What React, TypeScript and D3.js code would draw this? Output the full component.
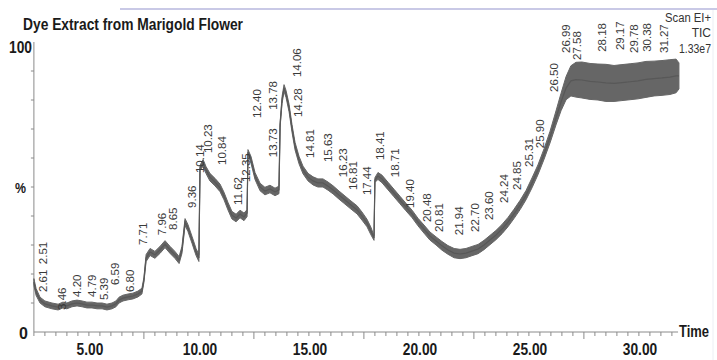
import React from "react";
import * as d3 from "d3";

// retention time (min)
const TIMES = [
  2.45, 2.55, 2.73, 2.95, 3.27, 3.55, 3.77, 3.95, 4.18, 4.41, 4.64, 4.86, 5.09, 5.32, 5.55, 5.77, 6.0, 6.18, 6.32, 6.5,
  6.73, 6.95, 7.18, 7.36, 7.45, 7.55, 7.73, 7.95, 8.18, 8.41, 8.64, 8.86, 9.05, 9.18, 9.32, 9.45, 9.64, 9.82, 9.95, 10.0,
  10.14, 10.27, 10.45, 10.68, 10.91, 11.09, 11.27, 11.45, 11.64, 11.82, 12.0, 12.14, 12.18, 12.32, 12.5, 12.73, 12.95, 13.18, 13.41, 13.59,
  13.64, 13.73, 13.82, 13.91, 14.05, 14.18, 14.32, 14.5, 14.68, 14.91, 15.14, 15.36, 15.59, 15.82, 16.05, 16.32, 16.59, 16.86, 17.14, 17.36,
  17.59, 17.77, 17.91, 17.95, 18.09, 18.27, 18.55, 18.82, 19.09, 19.36, 19.64, 19.91, 20.18, 20.45, 20.73, 21.0, 21.27, 21.55, 21.82, 22.09,
  22.36, 22.64, 22.91, 23.18, 23.45, 23.73, 24.0, 24.27, 24.55, 24.82, 25.09, 25.36, 25.64, 25.91, 26.18, 26.41, 26.64, 26.86, 27.09, 27.36,
  27.73, 28.09, 28.45, 28.82, 29.18, 29.55, 29.91, 30.27, 30.64, 31.0, 31.36, 31.64, 31.77,
];
// relative abundance (%), trace centre
const CENTER = [
  17.2, 13.8, 11.0, 9.7, 9.0, 8.6, 9.3, 9.0, 9.7, 10.0, 9.7, 9.3, 9.3, 9.0, 9.0, 8.6, 9.0, 9.7, 11.0, 11.7,
  12.1, 12.4, 13.1, 14.1, 17.9, 25.5, 27.6, 26.6, 28.3, 30.3, 28.3, 26.6, 24.8, 28.3, 37.9, 35.9, 31.7, 27.6, 25.5, 56.6,
  58.3, 55.9, 53.4, 51.7, 49.7, 46.9, 43.4, 40.3, 39.3, 40.7, 39.7, 41.0, 62.1, 59.3, 53.8, 50.0, 48.6, 49.3, 48.3, 49.0,
  71.4, 80.0, 84.1, 82.1, 77.2, 70.3, 64.1, 59.3, 55.9, 53.4, 52.1, 51.4, 51.4, 50.3, 49.0, 47.2, 45.5, 43.8, 42.1, 40.0,
  37.6, 34.8, 32.4, 52.4, 53.8, 52.8, 50.3, 47.9, 45.5, 43.1, 40.7, 37.9, 35.5, 33.1, 31.4, 29.7, 28.3, 27.2, 26.9, 27.2,
  27.9, 28.6, 30.0, 31.7, 33.4, 35.5, 37.9, 40.7, 43.8, 47.2, 51.4, 55.9, 61.4, 67.2, 73.8, 79.3, 84.1, 86.6, 87.0, 86.9,
  86.4, 86.2, 85.9, 85.7, 86.0, 86.3, 86.6, 87.1, 87.4, 87.6, 87.9, 88.3, 88.3,
];
// half-width of the noise band (%)
const SPREAD = [
  1.2, 1.2, 1.0, 1.0, 1.0, 1.0, 1.0, 1.0, 1.0, 1.0, 1.0, 1.0, 1.0, 1.0, 1.0, 1.0, 1.0, 1.0, 1.0, 1.0,
  1.0, 1.0, 1.0, 1.0, 0.8, 1.2, 1.2, 1.2, 1.2, 1.2, 1.2, 1.2, 1.2, 1.2, 1.2, 1.2, 1.2, 1.2, 1.2, 0.8,
  1.2, 1.2, 1.3, 1.3, 1.3, 1.3, 1.3, 1.3, 1.3, 1.3, 1.3, 1.2, 0.8, 1.2, 1.2, 1.3, 1.3, 1.3, 1.3, 1.3,
  0.8, 1.2, 1.2, 1.2, 1.3, 1.3, 1.3, 1.3, 1.3, 1.3, 1.4, 1.4, 1.4, 1.4, 1.4, 1.4, 1.4, 1.4, 1.4, 1.4,
  1.3, 1.3, 0.8, 0.8, 1.2, 1.3, 1.3, 1.3, 1.3, 1.3, 1.3, 1.3, 1.4, 1.4, 1.4, 1.5, 1.5, 1.6, 1.6, 1.6,
  1.6, 1.6, 1.6, 1.6, 1.6, 1.6, 1.6, 1.6, 1.6, 1.6, 1.7, 1.7, 1.8, 2.0, 2.4, 3.0, 4.0, 5.2, 6.0, 6.2,
  6.2, 6.2, 6.4, 6.2, 6.2, 6.2, 6.2, 6.2, 6.0, 6.0, 6.0, 5.8, 4.5,
];

// peak annotations: label, anchor time, anchor level (%)
const PEAK_LABELS = [
  "2.61", "2.51", "3.46", "4.20", "4.79", "5.39", "6.59", "6.80", "7.71", "7.96", "8.65", "9.36", "10.14", "10.23",
  "10.84", "11.62", "12.35", "12.40", "13.73", "13.78", "14.06", "14.28", "14.81", "15.63", "16.23", "16.81", "17.44",
  "18.41", "18.71", "19.40", "20.48", "20.81", "21.94", "22.70", "23.60", "24.24", "24.85", "25.31", "25.90", "26.50",
  "26.99", "27.58", "28.18", "29.17", "29.78", "30.38", "31.27",
];
const PEAK_T = [
  2.86, 2.86, 3.73, 4.41, 5.09, 5.64, 6.14, 6.82, 7.41, 8.27, 8.77, 9.64, 10.0, 10.36,
  11.0, 11.73, 12.09, 12.59, 13.32, 13.32, 14.41, 14.45, 15.0, 15.82, 16.5, 16.95, 17.59,
  18.18, 18.86, 19.55, 20.32, 20.86, 21.77, 22.5, 23.14, 23.82, 24.41, 24.95, 25.45, 26.09,
  26.64, 27.14, 28.27, 29.09, 29.73, 30.32, 31.09,
];
const PEAK_V = [
  13.8, 23.4, 7.6, 12.1, 12.1, 11.0, 16.2, 13.8, 30.0, 33.4, 35.2, 42.8, 54.8, 61.7,
  57.6, 43.8, 51.7, 73.8, 60.3, 76.6, 87.9, 74.1, 60.0, 58.6, 53.4, 49.0, 47.2,
  59.3, 53.4, 42.8, 37.9, 34.5, 33.4, 34.5, 38.6, 44.5, 49.0, 56.9, 63.4, 82.8,
  96.2, 93.8, 96.6, 97.2, 96.2, 96.6, 96.2,
];

const X_TICK_LABELS = ["5.00", "10.00", "15.00", "20.00", "25.00", "30.00"];
const X_TICK_VALUES = [5, 10, 15, 20, 25, 30];

const W = 717;
const H = 360;

export default function App() {
  const x = d3.scaleLinear().domain([5, 30]).range([90, 640]);
  const y = d3.scaleLinear().domain([0, 100]).range([332, 42]);
  const x0 = x(2.45);
  const x1 = x(31.73);

  const idx = d3.range(TIMES.length);
  const area = d3
    .area<number>()
    .x((i) => x(TIMES[i]))
    .y0((i) => y(CENTER[i] - SPREAD[i]))
    .y1((i) => y(CENTER[i] + SPREAD[i]));
  const line = d3
    .line<number>()
    .x((i) => x(TIMES[i]))
    .y((i) => y(CENTER[i]));

  const minor = d3.range(0, 59).map((k) => 2.45 + k * 0.5);
  const yTicks = d3.range(10, 100, 10);

  const font = "Liberation Sans, Arial, sans-serif";

  return (
    <svg
      width={W}
      height={H}
      style={{ position: "absolute", left: 0, top: 0, background: "#fff" }}
      fontFamily={font}
    >
      <rect x={0} y={0} width={W} height={H} fill="#fff" />
      <line x1={120} x2={717} y1={9} y2={9} stroke="#c9c9e6" strokeWidth={2} />
      <line x1={713} x2={713} y1={10} y2={360} stroke="#eceff4" strokeWidth={1} />

      <text x={23} y={30} fontSize={16} fontWeight="bold" fill="#1a1a1a" textLength={220} lengthAdjust="spacingAndGlyphs">
        Dye Extract from Marigold Flower
      </text>

      <text x={711} y={22} fontSize={12} fill="#333" textAnchor="end" textLength={46} lengthAdjust="spacingAndGlyphs">
        Scan EI+
      </text>
      <text x={711} y={37} fontSize={12} fill="#333" textAnchor="end">
        TIC
      </text>
      <text x={711} y={53} fontSize={12} fill="#333" textAnchor="end" textLength={32} lengthAdjust="spacingAndGlyphs">
        1.33e7
      </text>

      {/* axes */}
      <line x1={x0} x2={x0} y1={y(100)} y2={y(0)} stroke="#8a8a8a" strokeWidth={1} />
      <line x1={x0} x2={x1} y1={y(0)} y2={y(0)} stroke="#8a8a8a" strokeWidth={1} />
      {yTicks.map((v) => (
        <line key={v} x1={x0 - 3} x2={x0} y1={y(v)} y2={y(v)} stroke="#8a8a8a" />
      ))}
      {minor.map((t, k) => (
        <line
          key={k}
          x1={x(t)}
          x2={x(t)}
          y1={y(0)}
          y2={y(0) + (k % 10 === 0 && k > 0 ? 7 : 4)}
          stroke="#8a8a8a"
        />
      ))}
      {X_TICK_VALUES.map((v, i) => (
        <text
          key={v}
          x={x(v)}
          y={355}
          fontSize={16}
          fontWeight="bold"
          fill="#1a1a1a"
          textAnchor="middle"
          transform={`translate(${x(v)},0) scale(0.86,1) translate(${-x(v)},0)`}
        >
          {X_TICK_LABELS[i]}
        </text>
      ))}
      <text x={679} y={337} fontSize={16} fontWeight="bold" fill="#1a1a1a" textLength={30} lengthAdjust="spacingAndGlyphs">
        Time
      </text>
      <text x={32} y={53} fontSize={16} fontWeight="bold" fill="#1a1a1a" textAnchor="end" textLength={23} lengthAdjust="spacingAndGlyphs">
        100
      </text>
      <text x={28} y={339} fontSize={16} fontWeight="bold" fill="#1a1a1a" textAnchor="end">
        0
      </text>
      <text x={26} y={193} fontSize={15} fontWeight="bold" fill="#1a1a1a" textAnchor="end" textLength={11} lengthAdjust="spacingAndGlyphs">
        %
      </text>

      {/* trace */}
      <path d={area(idx) ?? ""} fill="#666" stroke="#666" strokeWidth={1} />
      <path d={line(idx) ?? ""} fill="none" stroke="#585858" strokeWidth={1.2} />

      {/* peak labels */}
      {PEAK_LABELS.map((lab, i) => {
        const px = x(PEAK_T[i]);
        const py = y(PEAK_V[i]);
        return (
          <text
            key={i}
            transform={`translate(${px},${py}) rotate(-90)`}
            fontSize={11.5}
            fill="#3a3a3a"
            dominantBaseline="central"
          >
            {lab}
          </text>
        );
      })}
    </svg>
  );
}
